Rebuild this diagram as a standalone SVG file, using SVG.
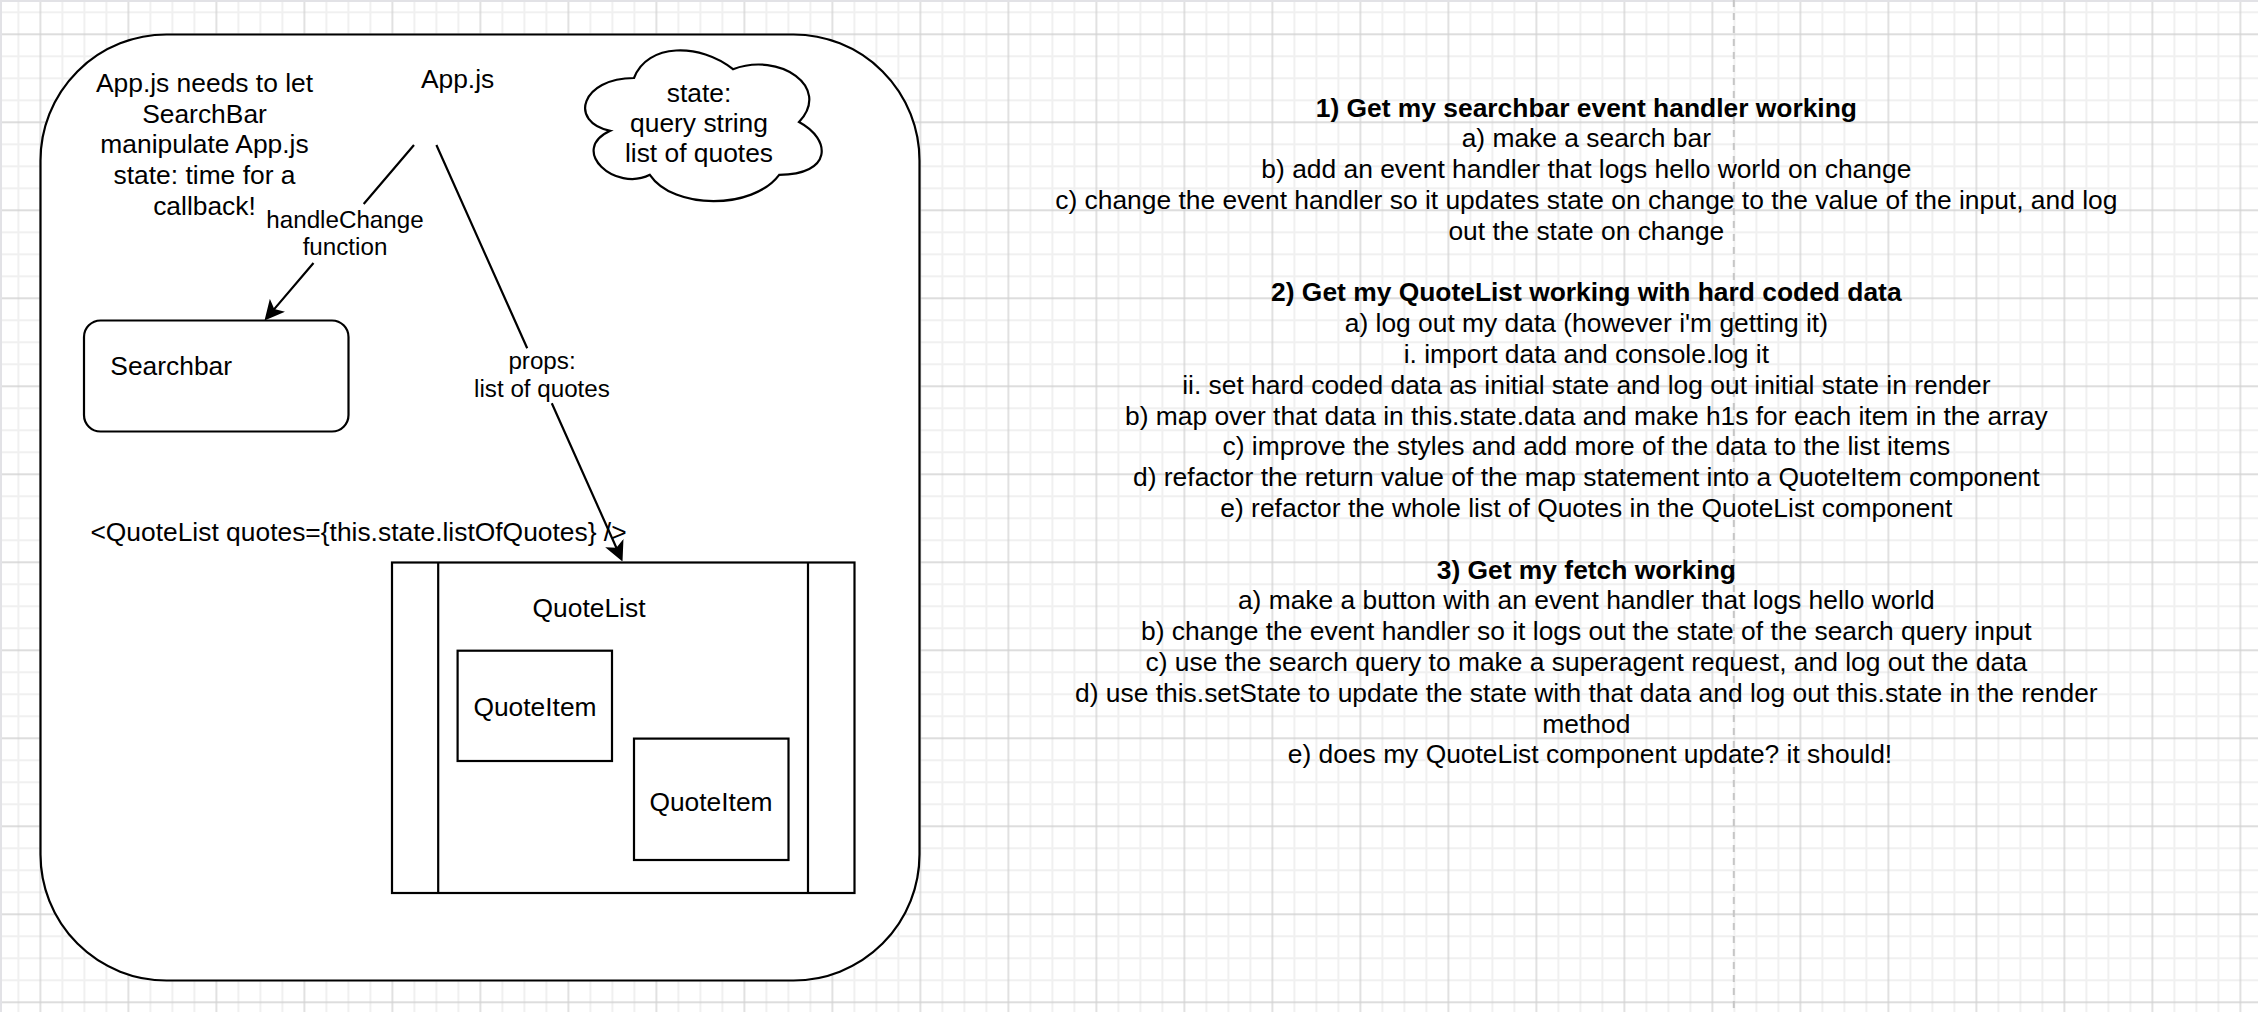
<svg xmlns="http://www.w3.org/2000/svg" width="2258" height="1012" viewBox="0 0 2258 1012">
<style>
text{font-family:"Liberation Sans",Arial,Helvetica,sans-serif;fill:#000}
.t{font-size:26.4px}
.c{text-anchor:middle}
.lbl{font-size:24.2px;text-anchor:middle}
.b{font-weight:bold}
.shape{fill:#fff;stroke:#000;stroke-width:2.2}
.edge{fill:none;stroke:#000;stroke-width:2.2}
</style>
<defs>
<pattern id="grid" patternUnits="userSpaceOnUse" x="29.4" y="23.3" width="88" height="88">
<rect width="88" height="88" fill="#fff"/>
<path d="M33,0V88M55,0V88M77,0V88M0,33H88M0,55H88M0,77H88" stroke="#f0f0f0" stroke-width="2"/>
<path d="M11,0V88M0,11H88" stroke="#d2d2d2" stroke-width="1.3"/>
</pattern>
<marker id="arrow" markerUnits="userSpaceOnUse" viewBox="0 0 20 20" refX="8" refY="10" markerWidth="20" markerHeight="20" orient="auto">
<path d="M20,10L0,0L5,10L0,20Z" fill="#000"/>
</marker>
</defs>
<rect width="2258" height="1012" fill="url(#grid)"/>
<rect x="0" y="0" width="2258" height="2" fill="#e2e2e6"/>
<rect x="0" y="0" width="2" height="1012" fill="#e2e2e6"/>
<line x1="1733.8" y1="0" x2="1733.8" y2="1012" stroke="#c6c6c6" stroke-width="2" stroke-dasharray="7 6"/>

<g id="app-container">
<rect class="shape" x="40.5" y="34.5" width="879" height="946" rx="126" ry="126"/>
</g>

<g id="app-note">
<text class="t c" x="204.5"><tspan x="204.5" y="91.7">App.js needs to let</tspan><tspan x="204.5" y="122.5">SearchBar</tspan><tspan x="204.5" y="153.3">manipulate App.js</tspan><tspan x="204.5" y="184.1">state: time for a</tspan><tspan x="204.5" y="215">callback!</tspan></text>
</g>

<g id="app-title">
<text class="t c" x="457.6" y="88.3">App.js</text>
</g>

<g id="state-cloud">
<path class="shape" d="M634,78C581.2,78 568,122 610.24,130.8C568,150.16 615.52,192.4 649.84,174.8C673.6,210 752.8,210 779.2,174.8C832,174.8 832,139.6 799,122C832,86.8 779.2,51.6 733,69.2C700,42.8 647.2,42.8 634,78Z"/>
<text class="t c"><tspan x="699" y="101.5">state:</tspan><tspan x="699" y="131.8">query string</tspan><tspan x="699" y="162">list of quotes</tspan></text>
</g>

<g id="searchbar">
<rect class="shape" x="84" y="320.5" width="264.5" height="111" rx="16.5" ry="16.5"/>
<text class="t" x="110.3" y="375">Searchbar</text>
</g>

<g id="quotelist-jsx">
<text class="t c" x="358.5" y="541">&lt;QuoteList quotes={this.state.listOfQuotes} /&gt;</text>
</g>

<g id="quotelist">
<rect class="shape" x="392" y="562.5" width="462.5" height="330.5"/>
<line class="edge" x1="438.2" y1="562.5" x2="438.2" y2="893"/>
<line class="edge" x1="808" y1="562.5" x2="808" y2="893"/>
<text class="t c" x="589" y="617">QuoteList</text>
</g>

<g id="quoteitem-1">
<rect class="shape" x="457.6" y="650.7" width="154.4" height="110.3"/>
<text class="t c" x="535" y="716">QuoteItem</text>
</g>

<g id="quoteitem-2">
<rect class="shape" x="634" y="738.6" width="154.5" height="121.4"/>
<text class="t c" x="711" y="811">QuoteItem</text>
</g>

<g id="connectors">
<path class="edge" d="M414,145L363.7,204M313.5,263L272.3,311.4" marker-end="url(#arrow)"/>
<text class="lbl"><tspan x="345" y="227.7">handleChange</tspan><tspan x="345" y="255">function</tspan></text>
<path class="edge" d="M436.4,145L527.2,348.3M551.8,403.3L617.6,550.5" marker-end="url(#arrow)"/>
<text class="lbl"><tspan x="542" y="369">props:</tspan><tspan x="542" y="397">list of quotes</tspan></text>
</g>

<g id="todo-list">
<text class="t c">
<tspan class="b" x="1590" y="116.5">1) Get my searchbar event handler working</tspan>
<tspan x="1590" y="147.3">a) make a search bar</tspan>
<tspan x="1590" y="178.1">b) add an event handler that logs hello world on change</tspan>
<tspan x="1590" y="208.9">c) change the event handler so it updates state on change to the value of the input, and log</tspan>
<tspan x="1590" y="239.7">out the state on change</tspan>
<tspan class="b" x="1590" y="301.3">2) Get my QuoteList working with hard coded data</tspan>
<tspan x="1590" y="332.1">a) log out my data (however i'm getting it)</tspan>
<tspan x="1590" y="362.9">i. import data and console.log it</tspan>
<tspan x="1590" y="393.7">ii. set hard coded data as initial state and log out initial state in render</tspan>
<tspan x="1590" y="424.5">b) map over that data in this.state.data and make h1s for each item in the array</tspan>
<tspan x="1590" y="455.3">c) improve the styles and add more of the data to the list items</tspan>
<tspan x="1590" y="486.1">d) refactor the return value of the map statement into a QuoteItem component</tspan>
<tspan x="1590" y="516.9">e) refactor the whole list of Quotes in the QuoteList component</tspan>
<tspan class="b" x="1590" y="578.5">3) Get my fetch working</tspan>
<tspan x="1590" y="609.3">a) make a button with an event handler that logs hello world</tspan>
<tspan x="1590" y="640.1">b) change the event handler so it logs out the state of the search query input</tspan>
<tspan x="1590" y="670.9">c) use the search query to make a superagent request, and log out the data</tspan>
<tspan x="1590" y="701.7">d) use this.setState to update the state with that data and log out this.state in the render</tspan>
<tspan x="1590" y="732.5">method</tspan>
<tspan x="1590" y="763.3">e) does my QuoteList component update? it should!</tspan>
</text>
</g>
</svg>
